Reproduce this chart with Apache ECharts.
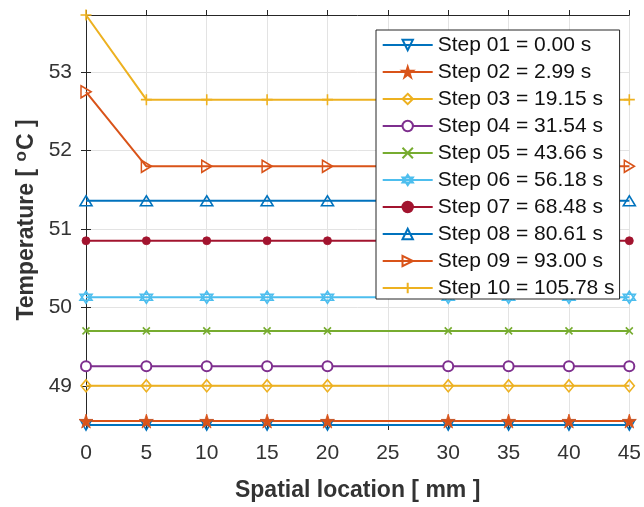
<!DOCTYPE html>
<html><head><meta charset="utf-8">
<script src="https://cdn.jsdelivr.net/npm/echarts@6/dist/echarts.min.js"></script>
<style>html,body{margin:0;padding:0;background:#fff}#c{width:644px;height:507px}</style>
</head><body><div id="c"></div>
<script>
// ---- data ----
const xValues = [0, 5, 10, 15, 20, 30, 35, 40, 45];
const stepNames = ['Step 01 = 0.00 s', 'Step 02 = 2.99 s', 'Step 03 = 19.15 s', 'Step 04 = 31.54 s',
  'Step 05 = 43.66 s', 'Step 06 = 56.18 s', 'Step 07 = 68.48 s', 'Step 08 = 80.61 s',
  'Step 09 = 93.00 s', 'Step 10 = 105.78 s'];
const step01 = [48.50, 48.50, 48.50, 48.50, 48.50, 48.50, 48.50, 48.50, 48.50];
const step02 = [48.55, 48.55, 48.55, 48.55, 48.55, 48.55, 48.55, 48.55, 48.55];
const step03 = [49.00, 49.00, 49.00, 49.00, 49.00, 49.00, 49.00, 49.00, 49.00];
const step04 = [49.25, 49.25, 49.25, 49.25, 49.25, 49.25, 49.25, 49.25, 49.25];
const step05 = [49.70, 49.70, 49.70, 49.70, 49.70, 49.70, 49.70, 49.70, 49.70];
const step06 = [50.13, 50.13, 50.13, 50.13, 50.13, 50.13, 50.13, 50.13, 50.13];
const step07 = [50.85, 50.85, 50.85, 50.85, 50.85, 50.85, 50.85, 50.85, 50.85];
const step08 = [51.36, 51.36, 51.36, 51.36, 51.36, 51.36, 51.36, 51.36, 51.36];
const step09 = [52.75, 51.80, 51.80, 51.80, 51.80, 51.80, 51.80, 51.80, 51.80];
const step10 = [53.73, 52.65, 52.65, 52.65, 52.65, 52.65, 52.65, 52.65, 52.65];
const yTicks = [49, 50, 51, 52, 53];
const xTicks = [0, 5, 10, 15, 20, 25, 30, 35, 40, 45];

// ---- styles ----
const allSteps = [step01, step02, step03, step04, step05, step06, step07, step08, step09, step10];
const colors = ['#0072BD', '#D95319', '#EDB120', '#7E2F8E', '#77AC30', '#4DBEEE', '#A2142F', '#0072BD', '#D95319', '#EDB120'];
const markers = [
  {sym: 'path://M0,0L100,0L50,87Z', size: [11, 10], fill: false},
  {sym: 'path://M50,0L61.2,34.5L97.6,34.5L68.2,55.9L79.4,90.5L50,69.1L20.6,90.5L31.8,55.9L2.4,34.5L38.8,34.5Z', size: 14, fill: true},
  {sym: 'path://M50,0L100,50L50,100L0,50Z', size: [10, 12], fill: false},
  {sym: 'emptyCircle', size: 10, fill: false},
  {sym: 'path://M0,0L100,100M100,0L0,100', size: 7, fill: false},
  {sym: 'path://M50,0L93.3,75L6.7,75ZM50,100L6.7,25L93.3,25Z', size: 12, fill: false},
  {sym: 'circle', size: 8, fill: true},
  {sym: 'path://M50,0L100,87L0,87Z', size: [12, 10], fill: false},
  {sym: 'path://M0,0L87,50L0,100Z', size: [10, 12], fill: false},
  {sym: 'path://M50,0L50,100M0,50L100,50', size: 11, fill: false}
];
const FONT = 'Liberation Sans, Arial, sans-serif';
const AX = '#262626';

const series = allSteps.map((vals, i) => {
  const m = markers[i];
  const c = colors[i];
  let itemStyle;
  if (m.sym === 'emptyCircle') itemStyle = {color: c, borderWidth: 1.6};
  else if (m.fill) itemStyle = {color: c, borderColor: c, borderWidth: 0.8};
  else itemStyle = {color: 'rgba(255,255,255,0)', borderColor: c, borderWidth: 1.6};
  return {
    name: stepNames[i], type: 'line', data: xValues.map((x, k) => [x, vals[k]]),
    symbol: m.sym, symbolSize: m.size, showAllSymbol: true, clip: false,
    lineStyle: {color: c, width: 2}, itemStyle: itemStyle,
    emphasis: {disabled: true}, z: 2
  };
});

const axisCommon = {
  axisLine: {show: true, lineStyle: {color: AX, width: 1}},
  axisTick: {show: true, inside: false, length: 5, lineStyle: {color: AX, width: 1}}
};

const chart = echarts.init(document.getElementById('c'), null, {renderer: 'canvas'});
chart.setOption({
  animation: false,
  backgroundColor: '#fff',
  grid: {left: 86, right: 11.7, top: 15, bottom: 79.4, containLabel: false},
  legend: {
    orient: 'vertical', left: 376, top: 30,
    data: stepNames,
    itemWidth: 50, itemHeight: 13, itemGap: 5,
    padding: [4, 5, 0, 5.7],
    backgroundColor: '#fff', borderColor: AX, borderWidth: 1,
    textStyle: {fontFamily: FONT, fontSize: 21, color: '#111', lineHeight: 22},
    z: 10
  },
  xAxis: [{
    type: 'value', min: 0, max: 45, position: 'bottom',
    ...axisCommon,
    axisTick: {show: true, inside: false, length: 5, lineStyle: {color: AX}, customValues: xTicks},
    axisLabel: {customValues: xTicks, margin: 18, fontFamily: FONT, fontSize: 21, color: '#333'},
    splitLine: {show: true, lineStyle: {color: '#e3e3e3', width: 1}},
    name: 'Spatial location [ mm ]', nameLocation: 'middle', nameGap: 54,
    nameTextStyle: {fontFamily: FONT, fontSize: 23, fontWeight: 'bold', color: '#333'}
  }, {
    type: 'value', min: 0, max: 45, position: 'top',
    ...axisCommon,
    axisTick: {show: true, inside: false, length: 5, lineStyle: {color: AX}, customValues: xTicks},
    axisLabel: {show: false}, splitLine: {show: false}
  }],
  yAxis: [{
    type: 'value', min: 48.5, max: 53.73, position: 'left',
    ...axisCommon,
    axisTick: {show: true, inside: false, length: 5, lineStyle: {color: AX}, customValues: yTicks},
    axisLabel: {customValues: yTicks, margin: 14, fontFamily: FONT, fontSize: 21, color: '#333'},
    splitLine: {show: true, lineStyle: {color: '#e3e3e3', width: 1}},
    name: '{a|Temperature [ }{s|o}{a|C ]}', nameLocation: 'middle', nameGap: 44, nameRotate: 90,
    nameTextStyle: {
      rich: {
        a: {fontFamily: FONT, fontSize: 23, fontWeight: 'bold', color: '#333'},
        s: {fontFamily: FONT, fontSize: 17, fontWeight: 'bold', color: '#333', padding: [0, 1, 10, 1]}
      }
    }
  }, {
    type: 'value', min: 48.5, max: 53.73, position: 'right',
    ...axisCommon,
    axisTick: {show: true, inside: false, length: 5, lineStyle: {color: AX}, customValues: yTicks},
    axisLabel: {show: false}, splitLine: {show: false}
  }],
  series: series
});
</script></body></html>
